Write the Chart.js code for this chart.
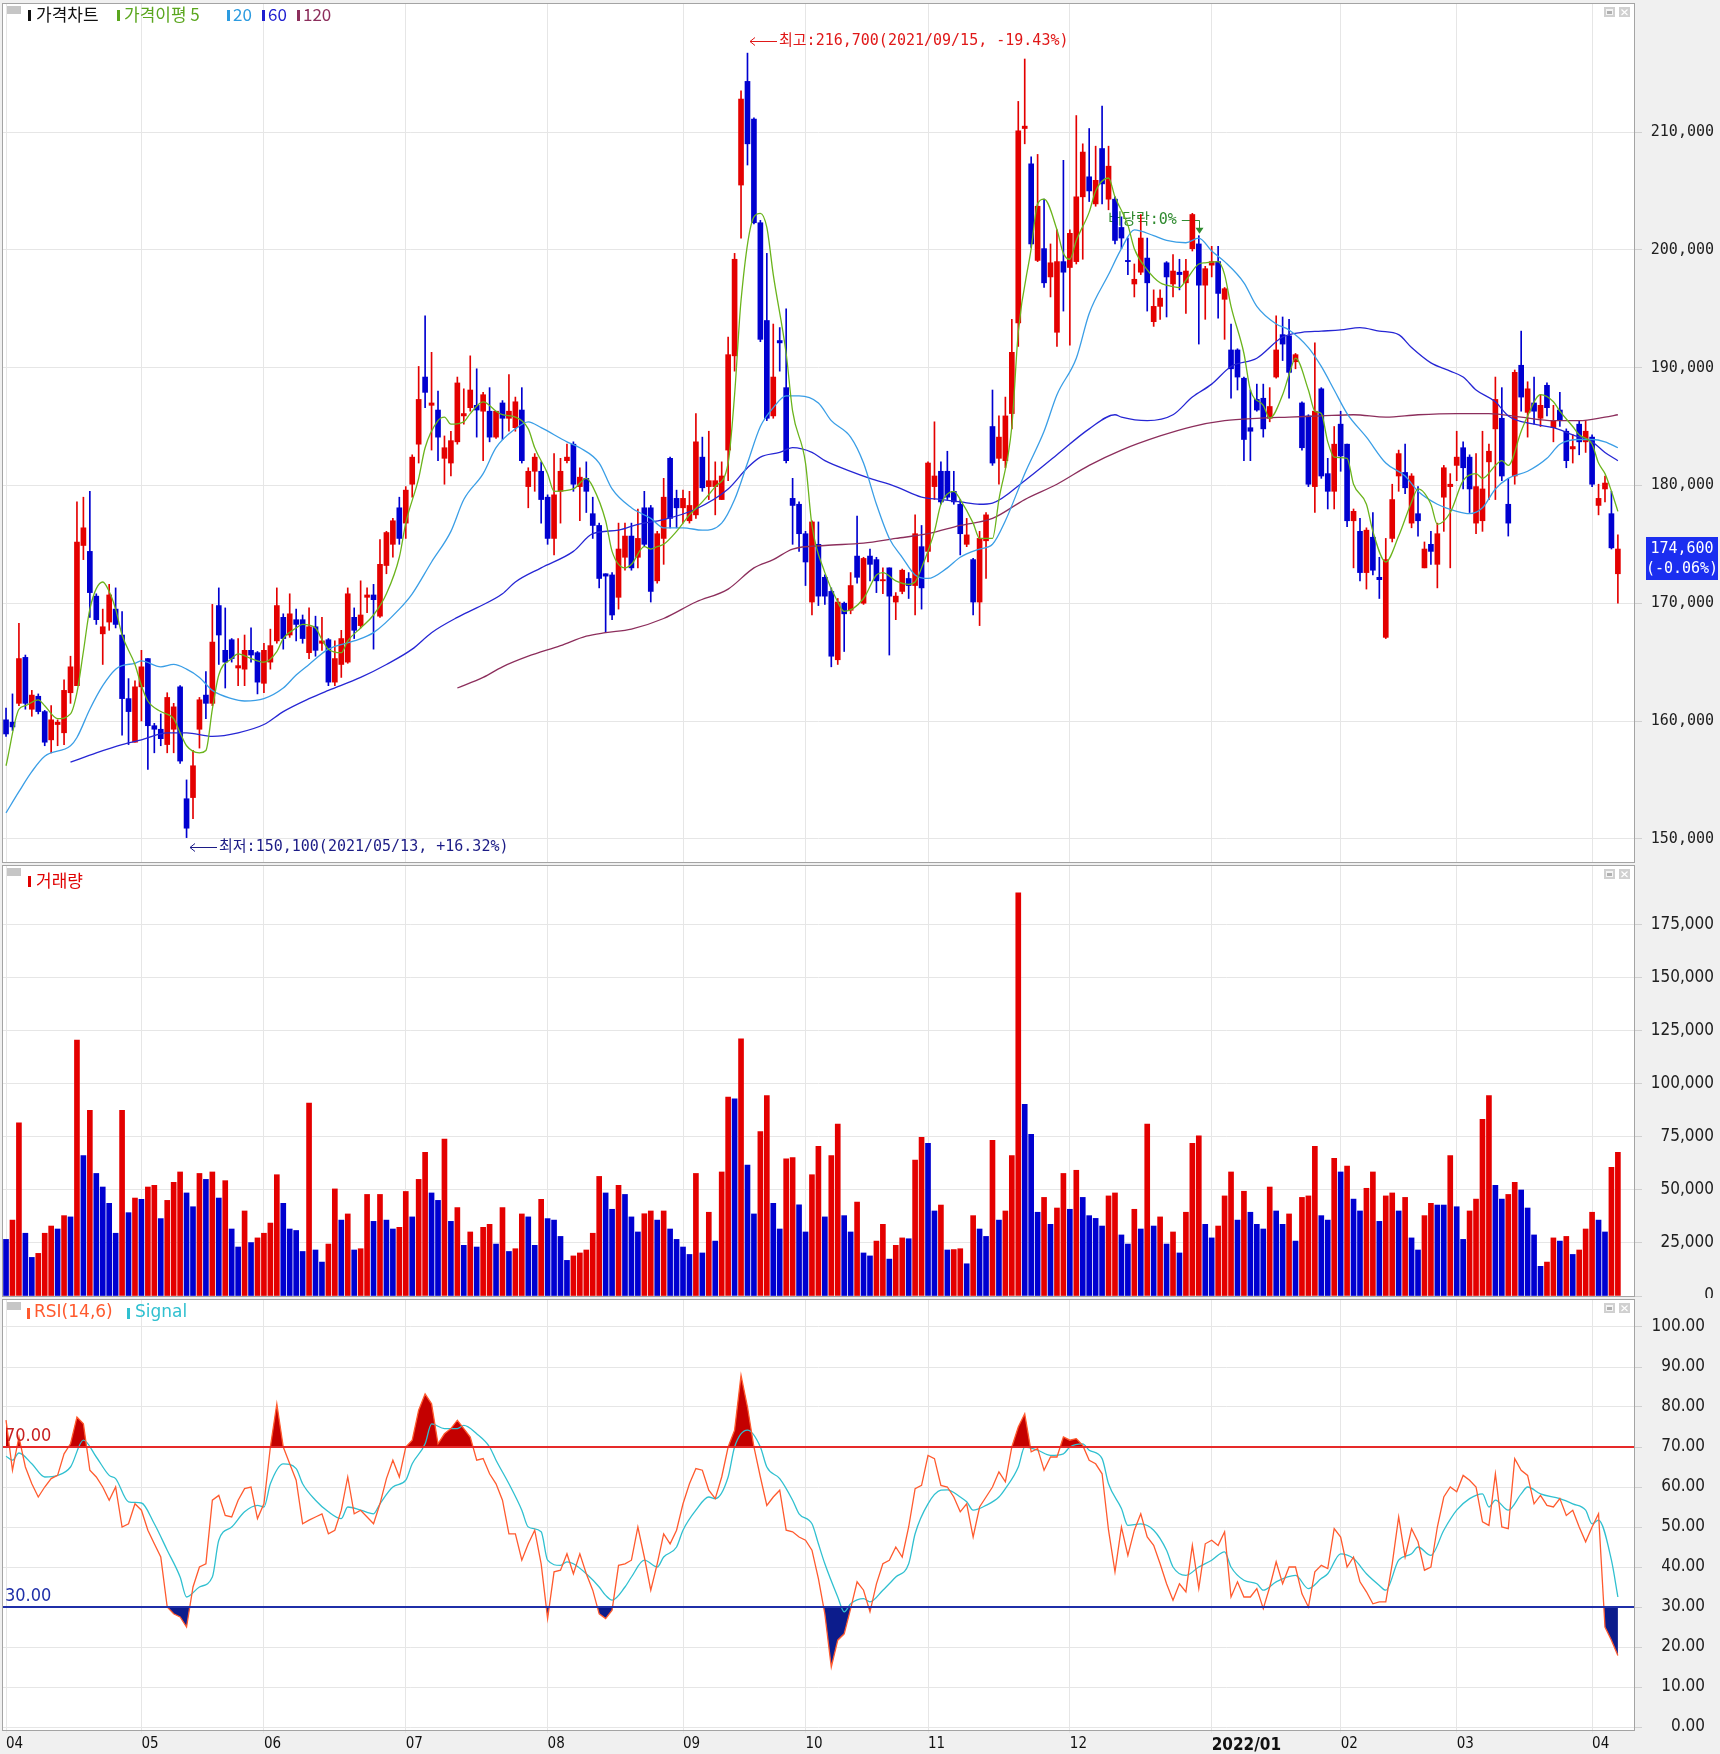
<!DOCTYPE html>
<html>
<head>
<meta charset="utf-8">
<script src="https://cdn.jsdelivr.net/npm/chart.js@4.4.1/dist/chart.umd.min.js"></script>
<style>
html, body { margin: 0; padding: 0; background: #f0f0f0; }
#wrap { position: relative; width: 1720px; height: 1754px; overflow: hidden; }
canvas { position: absolute; left: 0; }
</style>
</head>
<body>
<div id="wrap">
<canvas id="price" width="1720" height="864" style="top:0px"></canvas>
<canvas id="volume" width="1720" height="434" style="top:864px"></canvas>
<canvas id="rsi" width="1720" height="456" style="top:1298px"></canvas>
</div>
<script>
// ---- data (prices in thousand won, volume in thousand shares) ----
var monthIdx = [0, 21, 40, 62, 84, 105, 124, 143, 165, 187, 207, 225, 246];
var monthLabels = ['04', '05', '06', '07', '08', '09', '10', '11', '12', '2022/01', '02', '03', '04'];

var open = [160.1,159.9,161.5,165.4,161.0,162.1,160.8,158.4,159.7,159.0,
162.4,163.0,174.9,174.4,170.6,167.4,168.4,169.5,167.3,161.9,
158.2,162.9,165.3,159.6,159.3,158.0,159.3,162.9,153.4,153.5,
159.3,162.2,161.5,169.8,166.0,166.9,164.5,164.4,166.0,165.8,
163.2,165.0,166.8,168.8,167.3,168.6,168.6,165.8,168.0,166.6,
166.9,163.3,164.8,165.0,168.8,168.1,170.5,170.7,168.9,173.2,
175.0,178.1,176.8,180.1,183.5,189.2,186.8,186.4,182.3,181.9,
183.7,185.9,186.6,186.8,186.3,186.3,184.1,187.0,185.7,184.9,
186.4,179.9,181.2,181.2,179.0,175.5,179.5,182.1,183.5,179.9,
180.6,177.6,176.6,172.5,172.4,170.5,173.9,175.7,173.9,178.1,
178.1,171.9,175.5,182.3,178.9,178.1,177.0,177.5,182.4,179.9,
179.9,178.8,183.0,191.0,205.5,214.3,211.1,202.3,194.0,185.9,
192.3,188.3,178.9,178.4,175.9,170.1,175.0,172.2,171.0,165.2,
170.0,169.4,174.0,170.0,174.0,173.7,171.9,173.0,170.1,171.0,
172.1,171.5,174.8,174.4,179.9,181.2,181.2,179.5,178.4,175.0,
173.7,170.1,175.3,185.0,182.3,182.1,186.1,193.8,210.3,207.3,
199.1,200.1,197.7,193.0,199.0,198.5,199.0,204.5,206.2,203.9,
208.6,204.3,204.3,201.9,199.1,197.1,198.1,199.3,193.9,195.2,
198.9,197.1,198.1,197.2,200.1,200.5,197.0,198.7,199.0,195.8,
191.5,191.5,189.1,184.9,187.3,187.4,185.7,189.2,192.8,192.7,
190.5,187.0,185.9,179.9,188.2,181.0,179.5,185.2,183.5,177.0,
176.1,172.6,175.6,172.2,167.1,175.5,180.8,181.1,176.8,177.6,
173.0,175.0,173.3,179.0,179.9,181.7,183.2,182.4,176.8,177.0,
182.0,184.8,185.7,178.4,180.8,190.2,186.2,187.0,185.7,188.5,
184.9,186.4,184.6,183.1,185.2,183.7,184.1,178.3,179.7,177.6,
172.5];

var high = [161.1,162.3,168.3,165.6,162.6,162.3,160.9,161.3,160.1,163.5,
165.5,178.6,179.0,179.5,170.8,169.5,171.6,171.3,169.3,163.6,
163.4,166.0,165.3,159.8,160.6,162.4,161.5,163.0,155.0,157.5,
162.0,164.2,169.9,171.3,169.6,167.0,167.0,167.3,167.9,165.9,
166.6,167.8,171.3,169.1,170.8,169.5,169.0,169.6,168.9,168.8,
167.0,166.8,167.7,171.3,169.6,171.9,171.3,171.6,175.4,176.1,
177.2,179.0,179.9,182.6,190.1,194.4,191.3,188.0,184.2,184.6,
189.2,188.2,191.0,189.9,187.9,188.3,186.3,187.2,189.4,187.5,
188.3,181.5,182.7,182.0,179.2,182.7,182.3,183.5,183.7,181.5,
182.0,179.0,176.8,172.5,172.6,176.8,176.8,176.8,178.0,179.5,
178.3,176.1,180.6,182.4,179.6,179.6,179.5,186.1,184.1,184.6,
182.0,182.0,192.6,199.7,213.5,216.7,211.2,202.5,199.7,193.7,
193.4,195.0,180.6,178.6,176.1,177.0,176.9,172.4,171.3,170.4,
170.1,172.6,177.4,173.9,174.6,173.9,173.0,173.0,170.9,172.9,
172.6,177.5,176.6,182.0,185.4,182.0,182.9,181.2,178.8,177.2,
173.8,176.1,177.7,188.1,185.9,187.5,194.1,212.6,216.2,207.9,
208.1,204.3,200.5,201.7,207.6,201.7,211.4,209.0,210.3,208.8,
212.2,208.8,204.5,202.8,201.0,198.8,203.0,201.0,196.6,196.6,
199.0,199.6,199.2,199.2,203.1,201.2,198.6,200.3,200.3,196.8,
193.7,191.6,189.2,188.1,188.6,188.6,188.3,194.4,194.3,194.1,
191.2,187.1,186.0,192.1,188.3,182.3,185.0,186.3,183.5,178.0,
177.2,176.4,177.7,173.9,175.5,180.1,183.0,183.5,181.0,179.9,
175.2,176.1,176.8,181.7,181.0,184.6,183.7,182.6,182.7,184.6,
183.5,189.2,188.3,180.6,189.8,193.1,188.8,189.2,187.7,188.7,
186.8,187.9,184.8,184.3,185.5,185.5,184.3,180.1,180.8,179.5,
175.8];

var low = [158.7,159.2,161.3,161.0,160.4,160.6,157.9,157.3,157.9,158.0,
161.5,163.0,173.7,168.8,168.2,164.8,167.7,167.9,158.8,158.0,
158.2,160.0,155.9,157.3,157.9,157.3,157.3,156.4,150.1,151.7,
157.7,160.2,161.3,164.8,162.8,165.0,163.0,163.0,165.0,162.3,
162.4,164.4,166.6,166.1,167.1,166.8,166.6,165.3,165.5,166.0,
163.0,163.0,163.7,164.9,167.0,167.9,169.2,166.1,168.8,172.5,
173.9,175.0,175.5,179.0,181.9,186.6,183.0,182.1,180.1,180.8,
183.5,185.2,186.3,184.1,182.1,183.7,184.0,183.9,184.6,184.6,
181.9,178.1,179.5,176.8,175.0,174.1,176.8,181.9,179.5,177.0,
177.7,175.5,171.3,167.5,168.6,169.5,172.8,172.8,173.0,174.8,
170.1,171.7,173.3,176.4,176.4,176.8,176.8,177.2,179.5,178.8,
177.5,178.8,180.4,189.7,201.0,207.2,202.2,192.2,185.5,185.7,
189.7,181.9,175.0,174.4,171.5,169.0,169.8,169.9,164.6,164.8,
165.9,169.1,171.7,169.9,171.9,170.9,170.8,165.6,168.6,170.8,
170.4,169.0,169.5,173.5,178.8,178.4,178.8,178.4,174.1,174.8,
169.0,168.1,172.1,181.7,180.1,181.5,184.8,191.8,209.0,200.2,
199.0,196.8,196.0,191.8,194.8,191.9,198.8,199.2,204.1,203.7,
203.9,203.4,200.5,200.1,197.9,196.0,197.9,194.8,193.5,194.1,
194.3,196.0,196.6,194.6,199.9,192.0,194.1,197.7,194.2,192.4,
187.4,188.1,182.1,182.1,186.3,184.1,185.4,189.1,190.6,187.4,
189.9,183.0,179.9,177.7,180.6,178.0,178.0,181.2,176.5,173.0,
171.9,171.2,172.4,170.4,167.0,175.2,179.5,179.3,176.4,175.7,
173.0,173.3,171.3,176.1,173.0,180.4,179.7,177.7,175.9,176.1,
178.8,178.8,180.4,175.7,180.1,186.3,184.1,185.2,185.0,185.9,
183.7,185.0,181.5,181.9,182.6,182.8,179.9,177.5,178.6,174.6,
170.0];

var close = [158.9,159.5,165.3,161.5,162.2,160.8,158.2,160.1,159.9,162.6,
164.6,175.2,176.4,170.9,168.6,168.0,170.7,168.2,161.9,160.8,
162.9,164.6,159.6,159.3,158.5,162.0,161.2,156.6,150.9,156.2,
161.8,161.5,166.7,167.3,165.0,165.3,164.7,166.0,165.6,163.3,
166.0,166.4,169.8,167.0,169.1,168.2,167.0,168.0,166.0,166.8,
163.3,165.3,167.0,170.8,167.7,169.0,170.7,170.3,173.3,176.0,
177.0,175.5,179.6,182.4,187.3,187.9,187.0,184.1,183.2,183.8,
188.7,186.1,188.1,186.4,187.7,184.1,186.3,185.7,186.3,187.1,
182.1,181.2,182.4,178.8,175.5,179.2,181.2,182.4,180.1,180.7,
179.5,176.6,172.1,172.3,169.0,174.6,175.7,173.0,175.5,175.0,
171.0,175.9,179.0,177.2,178.1,178.9,178.3,183.7,179.8,180.4,
180.4,180.8,191.1,199.2,212.8,209.0,202.3,192.4,185.7,189.2,
192.1,182.1,178.3,175.9,173.5,176.9,170.6,170.6,165.5,170.1,
169.1,171.5,172.2,173.8,173.3,171.9,172.0,170.6,170.6,172.8,
171.5,175.9,171.3,181.9,180.8,178.6,179.0,178.6,175.9,175.8,
170.1,175.5,177.5,181.9,184.1,185.9,191.3,210.1,210.5,200.5,
203.7,197.2,198.9,199.0,198.1,201.4,204.5,208.3,205.0,205.9,
205.6,207.1,200.8,201.0,199.0,197.5,201.0,197.2,195.2,195.9,
197.7,198.2,197.9,198.2,203.0,197.0,198.4,199.0,196.3,196.7,
189.9,189.2,183.9,184.6,186.4,184.8,186.7,191.5,192.0,189.6,
191.1,183.2,180.1,186.3,180.8,179.5,183.5,182.5,177.0,177.8,
172.6,176.2,172.8,172.0,173.7,178.8,182.7,179.8,180.8,177.0,
174.6,174.4,175.9,181.5,180.1,182.4,181.5,179.7,179.9,179.7,
182.9,187.3,180.8,176.8,189.6,187.5,188.2,186.3,186.8,186.6,
185.5,185.5,182.1,183.3,183.7,184.6,180.1,178.9,180.2,174.7,
174.6];

// moving averages, read at points along each line: [candle index, value]
var ma5 = [[0,156.2],[2,161.0],[3,161.3],[5,161.8],[6,161.3],[8,160.2],[10,160.6],[11,162.4],[12,165.9],[13,169.5],[15,171.8],[16,171.0],[17,169.5],[18,167.3],[20,164.8],[21,163.0],[22,161.7],[24,160.8],[26,160.2],[27,159.0],[28,157.9],[30,157.3],[31,157.5],[32,161.0],[33,163.9],[35,165.3],[36,165.7],[38,165.3],[40,165.0],[42,165.9],[43,167.0],[45,167.9],[46,168.2],[48,167.9],[49,166.9],[50,166.1],[52,165.8],[53,166.8],[55,167.9],[57,169.0],[59,170.8],[61,173.9],[62,176.8],[64,180.6],[65,183.2],[67,185.5],[68,185.8],[69,185.2],[71,185.4],[72,186.1],[74,187.1],[76,186.3],[77,186.0],[79,185.8],[81,184.8],[82,183.2],[84,181.0],[85,179.5],[88,179.7],[90,180.6],[91,179.9],[93,177.0],[94,174.4],[96,173.0],[97,173.3],[99,174.8],[100,174.6],[101,174.8],[102,175.0],[104,176.1],[106,177.5],[108,178.6],[110,179.9],[112,181.9],[113,187.7],[114,195.7],[116,202.8],[117,203.1],[118,201.9],[119,197.9],[121,191.2],[122,186.3],[124,181.9],[125,176.6],[127,172.6],[129,170.1],[130,169.3],[133,170.4],[135,172.4],[136,172.6],[138,171.9],[140,171.6],[141,171.8],[142,173.0],[144,176.1],[145,178.4],[147,179.5],[148,178.8],[150,176.8],[151,175.5],[153,175.5],[154,178.8],[156,185.0],[157,193.0],[159,200.1],[160,203.9],[161,204.3],[163,201.7],[164,199.7],[165,199.2],[166,200.8],[168,203.2],[169,205.0],[171,206.1],[172,204.5],[174,202.1],[175,200.1],[177,198.3],[179,197.2],[180,197.0],[182,196.8],[183,197.4],[185,198.8],[186,198.9],[188,199.0],[189,197.9],[190,195.2],[192,191.2],[193,188.1],[195,186.8],[196,185.7],[198,187.7],[199,189.4],[200,190.8],[202,188.1],[203,186.3],[204,186.1],[205,183.7],[206,182.4],[208,182.3],[209,180.1],[211,178.4],[212,176.1],[214,173.5],[216,175.7],[218,178.6],[219,179.7],[221,178.4],[222,176.7],[224,177.7],[226,180.4],[228,181.0],[229,180.6],[231,181.7],[232,182.1],[233,181.7],[235,184.6],[236,185.9],[238,187.7],[240,187.1],[241,186.3],[243,185.0],[244,184.3],[246,183.5],[247,181.9],[248,181.0],[249,179.5],[250,177.8]];

var ma20 = [[0,152.2],[2,154.0],[4,155.7],[6,157.0],[10,157.9],[11,158.6],[13,161.0],[15,163.0],[17,164.4],[18,164.7],[20,164.9],[21,165.1],[24,164.6],[26,164.8],[28,164.4],[30,163.7],[32,162.6],[35,161.9],[37,161.7],[40,161.9],[43,162.8],[45,163.9],[47,164.8],[50,166.1],[54,166.8],[57,167.5],[61,169.5],[63,170.8],[66,173.5],[69,176.1],[71,178.8],[74,181.0],[76,183.2],[79,184.8],[81,185.4],[83,184.9],[87,183.7],[89,183.2],[92,181.9],[94,179.7],[97,178.1],[100,177.2],[102,176.4],[105,176.4],[108,176.2],[111,176.8],[113,178.8],[115,181.9],[117,185.0],[119,186.6],[121,187.6],[123,187.6],[126,187.0],[128,185.5],[131,184.1],[133,181.9],[135,178.4],[137,175.5],[139,173.9],[141,172.4],[143,172.1],[146,173.0],[148,173.9],[151,174.6],[153,175.0],[155,177.0],[158,181.0],[161,184.6],[163,187.7],[166,190.8],[168,194.6],[171,197.9],[173,200.1],[175,201.7],[178,201.2],[180,200.8],[183,200.6],[185,201.0],[187,199.9],[189,199.0],[192,197.2],[194,195.2],[197,193.7],[199,193.2],[202,191.7],[204,190.1],[206,188.1],[208,186.1],[211,184.1],[214,181.9],[217,180.8],[219,179.5],[222,178.4],[225,177.8],[227,177.6],[229,178.1],[231,179.7],[233,180.6],[236,181.2],[239,182.3],[241,183.5],[244,183.9],[246,183.9],[248,183.7],[250,183.2]];

var ma60 = [[10,156.5],[14,157.3],[18,158.0],[21,158.4],[25,159.0],[28,159.0],[32,158.7],[36,159.0],[40,159.7],[43,160.8],[47,161.9],[50,162.6],[55,163.7],[59,164.8],[63,166.1],[66,167.5],[70,168.8],[73,169.6],[77,170.8],[79,171.8],[83,173.0],[88,174.4],[91,175.9],[95,176.2],[98,176.7],[102,177.1],[107,178.0],[112,179.7],[115,181.5],[117,182.4],[120,182.8],[122,183.2],[125,182.8],[127,182.1],[131,181.2],[134,180.6],[138,179.9],[142,179.0],[145,178.8],[148,178.6],[151,178.4],[153,178.5],[158,180.4],[163,182.6],[168,184.8],[172,186.0],[173,185.8],[177,185.5],[181,186.0],[184,187.5],[187,188.6],[190,190.1],[194,190.8],[198,192.6],[201,193.0],[204,193.1],[207,193.2],[210,193.4],[213,193.1],[216,192.8],[218,191.7],[221,190.4],[224,189.7],[226,189.2],[228,188.1],[231,187.1],[233,185.9],[237,185.2],[240,184.9],[243,184.3],[246,183.7],[248,182.8],[250,182.1]];

var ma120 = [[70,162.8],[74,163.7],[77,164.6],[81,165.5],[86,166.4],[90,167.2],[93,167.5],[97,167.8],[102,168.7],[107,170.1],[112,171.2],[116,173.0],[119,173.7],[122,174.6],[127,174.9],[133,175.1],[138,175.5],[143,175.9],[148,176.6],[153,177.2],[158,178.8],[163,180.1],[168,181.7],[173,183.0],[179,184.2],[184,185.0],[189,185.5],[194,185.7],[199,185.8],[204,185.9],[209,186.0],[214,185.8],[219,186.0],[225,186.1],[230,186.1],[235,185.8],[240,185.5],[244,185.5],[248,185.8],[250,186.0]];

var volume = [26.7,35.8,81.7,29.6,18.2,20.1,29.6,33.0,31.6,37.9,
37.3,120.7,66.2,87.6,57.8,51.4,43.7,29.6,87.6,39.3,
46.2,45.6,51.4,52.2,36.5,45.1,53.6,58.5,48.6,42.1,
57.8,55.0,58.5,46.2,54.4,31.6,23.1,40.1,25.2,27.4,
29.6,34.4,57.2,43.7,31.6,30.9,21.0,91.0,21.7,16.0,
24.5,50.5,35.8,38.7,21.7,22.3,47.9,35.2,47.9,35.8,
31.6,32.4,49.3,37.3,55.0,67.7,48.6,45.1,74.0,35.2,
41.7,23.9,30.2,23.1,32.4,33.8,24.5,41.7,21.0,22.3,
38.7,37.3,23.9,45.6,36.5,35.8,28.1,16.8,18.9,20.3,
21.7,29.6,56.4,48.6,40.9,52.2,47.9,37.3,30.2,38.8,
40.1,35.8,40.1,31.6,26.7,23.1,19.6,57.8,20.3,39.5,
25.9,58.5,93.8,93.0,121.3,61.8,38.7,77.5,94.5,43.7,
31.6,64.7,65.3,43.0,30.2,57.2,70.6,37.3,66.2,81.1,
37.9,30.2,44.3,20.3,18.9,25.9,33.8,17.4,23.9,27.4,
27.0,64.1,74.8,72.0,40.1,42.9,21.7,21.9,22.3,15.2,
37.9,31.6,28.1,73.4,35.8,40.1,66.2,190.2,90.4,76.2,
39.5,46.5,33.8,41.5,57.8,40.9,59.3,46.5,37.9,36.6,
33.0,47.2,48.6,28.8,24.5,40.9,31.6,81.1,33.0,37.3,
24.5,30.2,20.3,39.5,72.0,75.5,33.8,27.4,33.0,47.2,
58.5,35.8,49.4,39.5,33.8,31.6,51.4,40.1,33.8,38.7,
25.9,46.5,47.2,70.6,37.9,35.8,64.9,58.5,61.3,45.7,
40.1,50.8,58.5,35.2,47.2,48.6,40.1,46.5,27.4,21.7,
37.9,43.7,42.9,42.9,66.2,42.1,26.7,40.1,45.7,83.3,
94.5,52.2,45.7,47.9,53.6,50.0,41.5,28.8,14.0,16.0,
27.4,25.9,28.1,19.6,21.7,31.6,39.5,35.8,30.2,60.7,
67.8];

var rsi = [76.7,64.2,72.5,65.0,60.8,57.5,60.0,62.1,62.9,68.3,
70.8,77.5,75.8,64.2,62.5,60.0,56.7,60.0,50.0,50.8,
55.8,54.2,49.2,45.8,42.5,30.0,28.3,27.5,25.0,35.0,
40.0,40.8,56.7,57.9,52.9,52.5,56.7,59.6,60.0,52.1,
55.8,70.0,80.8,70.0,65.8,61.7,50.8,51.7,52.5,53.3,
48.3,49.2,54.2,62.5,53.3,54.2,52.5,50.8,55.8,62.1,
66.7,62.5,70.0,71.7,79.2,83.3,80.8,70.8,73.3,74.6,
76.7,74.6,72.5,66.7,67.1,63.3,60.8,56.7,48.3,48.3,
41.7,45.8,49.2,40.8,27.1,38.8,39.2,43.3,38.3,43.3,
38.3,34.2,28.3,27.1,29.2,40.4,40.8,41.7,50.0,42.5,
34.2,40.8,48.3,45.8,49.2,55.8,60.8,64.6,64.2,59.2,
57.1,62.5,70.0,74.2,87.9,80.0,70.0,62.5,55.4,57.5,
59.2,49.2,48.8,47.5,46.7,44.2,37.1,28.3,15.0,21.7,
23.3,29.6,36.3,34.2,28.8,35.8,40.8,41.7,45.0,42.5,
50.0,59.6,60.4,67.9,67.1,60.4,60.0,57.5,53.8,55.8,
47.5,55.0,57.5,60.0,63.8,61.3,70.0,75.0,78.3,68.8,
69.6,64.2,67.5,67.5,72.5,71.7,72.1,70.4,66.7,65.8,
63.3,49.2,38.8,50.0,42.9,49.2,53.3,47.5,45.4,40.8,
35.8,31.7,35.8,33.8,45.4,34.6,45.8,46.7,45.4,48.8,
32.5,36.3,32.5,32.5,34.6,29.6,35.0,41.3,35.8,40.0,
40.0,33.3,30.0,38.8,40.4,39.6,49.6,47.5,40.0,42.5,
36.3,33.8,30.8,31.3,31.3,40.8,52.5,42.5,49.6,46.3,
39.2,40.0,50.0,57.5,60.0,58.8,62.9,61.7,60.0,51.3,
50.4,63.3,50.0,49.6,67.1,64.2,62.9,55.8,57.9,55.4,
55.0,57.1,52.9,54.2,50.0,46.3,50.0,53.3,25.0,21.7,
17.9];

var signal = [[0,67.7],[1,66.7],[2,68.5],[4,65.8],[6,62.5],[8,62.9],[10,65.0],[12,71.7],[14,67.5],[16,62.9],[17,62.1],[19,56.3],[21,56.0],[23,50.8],[25,44.2],[27,37.5],[28,32.5],[30,35.0],[32,37.5],[33,46.7],[35,50.0],[37,53.8],[39,55.4],[40,55.0],[41,60.8],[43,65.8],[45,64.6],[46,60.8],[48,56.7],[50,53.8],[52,52.1],[53,55.0],[55,54.2],[57,53.3],[58,55.8],[60,60.0],[62,61.7],[63,65.8],[65,70.8],[66,75.8],[68,74.6],[70,74.6],[71,75.4],[73,73.3],[75,70.0],[76,66.7],[78,60.8],[80,54.2],[81,50.0],[83,48.8],[84,41.7],[86,40.4],[87,41.3],[88,40.8],[90,38.3],[92,35.0],[93,32.9],[94,31.7],[96,35.0],[97,37.5],[99,41.7],[101,40.0],[102,42.5],[104,45.0],[105,49.2],[107,54.2],[109,57.5],[110,57.1],[112,62.5],[113,70.0],[115,74.2],[117,70.0],[118,65.0],[120,62.1],[122,56.7],[123,53.3],[125,50.8],[126,45.8],[127,40.8],[129,32.5],[130,28.8],[131,30.8],[133,32.1],[134,31.3],[136,34.2],[138,37.5],[140,40.8],[141,48.3],[143,55.8],[145,59.2],[146,59.3],[148,57.5],[149,56.3],[150,54.2],[152,55.4],[154,57.5],[155,59.6],[157,65.0],[158,70.0],[160,69.2],[162,67.9],[164,68.3],[165,70.0],[167,70.8],[168,69.2],[170,67.1],[171,60.8],[173,54.6],[174,50.4],[176,50.8],[178,49.2],[180,44.2],[181,40.0],[183,37.9],[185,40.0],[187,41.7],[189,43.8],[190,40.0],[192,36.7],[194,35.8],[195,34.2],[197,36.3],[200,37.9],[202,34.6],[204,37.1],[205,38.3],[207,43.3],[209,42.1],[211,38.3],[213,35.4],[214,34.2],[216,41.7],[218,43.3],[219,45.0],[221,42.9],[223,49.2],[225,54.2],[227,57.1],[229,58.3],[230,55.0],[231,56.7],[233,54.2],[235,58.3],[236,60.0],[238,58.3],[241,57.1],[243,55.8],[245,54.2],[246,50.8],[247,51.7],[249,41.7],[250,32.5]];

var priceTicks = [150, 160, 170, 180, 190, 200, 210];
var volumeTicks = [0, 25, 50, 75, 100, 125, 150, 175];
var rsiTicks = [0, 10, 20, 30, 40, 50, 60, 70, 80, 90, 100];

var hiMark = {i: 115, v: 216.7, text: '최고:216,700(2021/09/15, -19.43%)'};
var loMark = {i: 28, v: 150.1, text: '최저:150,100(2021/05/13, +16.32%)'};
var divMark = {i: 185, text: '배당락:0%'};

// ---- style ----
var GRID = '#e6e6e6';
var RED = '#e40000';
var BLUE = '#0000d0';
var MONO = "'DejaVu Sans Mono', monospace";
var COND = "'DejaVu Sans Condensed', 'DejaVu Sans', sans-serif";
var KR = "17px 'Noto Sans CJK KR', sans-serif";
var LAT = "17px 'DejaVu Sans', sans-serif";
var ANN = "15px 'DejaVu Sans Mono', 'Noto Sans CJK KR', monospace";

Chart.defaults.animation = false;
Chart.defaults.responsive = false;
Chart.defaults.devicePixelRatio = 1;
Chart.defaults.plugins.legend.display = false;
Chart.defaults.plugins.tooltip.enabled = false;
Chart.defaults.elements.point.radius = 0;

var idx = close.map(function (c, i) { return i; });
function pts(list) { return list.map(function (p) { return {x: p[0], y: p[1]}; }); }
function fmtK(v) { return Math.round(v * 1000).toLocaleString('en-US'); }
function fmt2(v) { return v.toFixed(2); }
function noPad(s) { s.paddingTop = 0; s.paddingBottom = 0; s.paddingLeft = 0; s.paddingRight = 0; }

// per-panel header and right-axis label settings, keyed by canvas id
var panelCfg = {
    price: {
        y: 15, ticks: priceTicks, fmt: fmtK, axisFont: '15px ' + MONO, axisRight: 1714,
        items: [
            { bar: 28, x: 36, text: '가격차트', color: '#111111', font: KR },
            { bar: 117, x: 124, text: '가격이평 5', color: '#5aa61e', font: KR },
            { bar: 227, x: 233, text: '20', color: '#2c9be0', font: KR },
            { bar: 262, x: 268, text: '60', color: '#1f1fd0', font: KR },
            { bar: 297, x: 303, text: '120', color: '#8c2e5c', font: KR }
        ]
    },
    volume: {
        y: 17, ticks: volumeTicks, fmt: fmtK, axisFont: '17px ' + COND, axisRight: 1714,
        items: [ { bar: 28, x: 36, text: '거래량', color: '#e00000', font: KR } ]
    },
    rsi: {
        y: 15, ticks: rsiTicks, fmt: fmt2, axisFont: '17px ' + COND, axisRight: 1705,
        items: [
            { bar: 27, x: 34, text: 'RSI(14,6)', color: '#ff5a2e', font: LAT },
            { bar: 127, x: 135, text: 'Signal', color: '#30c0d0', font: LAT }
        ]
    }
};

function xAxis(labels) {
    var ax = {
        type: 'linear', min: -0.47, max: 252.5, bounds: 'data', offset: false,
        afterBuildTicks: function (s) { s.ticks = monthIdx.map(function (v) { return {value: v}; }); },
        afterFit: function (s) { s.height = labels ? 24 : 0; noPad(s); },
        grid: { color: GRID, offset: false, drawTicks: labels, tickLength: 3 },
        border: { display: false },
        ticks: { display: false }
    };
    if (labels) {
        ax.ticks = {
            display: true, autoSkip: false, maxRotation: 0, align: 'start', padding: 2, color: '#111',
            font: function (c) {
                return c.tick && c.tick.value === 187 ? {family: COND, size: 17, weight: 'bold'} : {family: COND, size: 15};
            },
            callback: function (v) { return monthLabels[monthIdx.indexOf(v)]; }
        };
    }
    return ax;
}

// right axis: grid and tick marks from Chart.js, labels drawn by the panel plugin
function yAxis(min, max, vals) {
    return {
        position: 'right', min: min, max: max, bounds: 'data',
        afterBuildTicks: function (s) { s.ticks = vals.map(function (v) { return {value: v}; }); },
        afterFit: function (s) { s.width = 86; noPad(s); },
        grid: { color: GRID, tickLength: 8, tickColor: '#d0d0d0' },
        border: { color: '#9c9c9c' },
        ticks: { display: false }
    };
}

function winIcons(ctx, top) {
    ctx.fillStyle = '#d0d0d0';
    ctx.fillRect(1604, top + 3, 11, 10);
    ctx.fillRect(1619, top + 3, 11, 10);
    ctx.fillStyle = '#f4f4f4';
    ctx.fillRect(1606, top + 5, 7, 6);
    ctx.fillStyle = '#b0b0b0';
    ctx.fillRect(1607, top + 7, 5, 3);
    ctx.strokeStyle = '#ffffff';
    ctx.lineWidth = 1.2;
    ctx.beginPath();
    ctx.moveTo(1621.5, top + 5.5); ctx.lineTo(1627.5, top + 11);
    ctx.moveTo(1627.5, top + 5.5); ctx.lineTo(1621.5, top + 11);
    ctx.stroke();
}

function legend(ctx, top, items, y) {
    ctx.fillStyle = '#c6c6c6';
    ctx.fillRect(7, top + 2, 14, 8);
    ctx.textBaseline = 'middle';
    ctx.textAlign = 'left';
    items.forEach(function (it) {
        ctx.fillStyle = it.color;
        ctx.fillRect(it.bar, y - 5, 3, 11);
        ctx.font = it.font;
        ctx.fillText(it.text, it.x, y);
    });
}

var panel = {
    id: 'panel',
    beforeDraw: function (c) {
        var a = c.chartArea, ctx = c.ctx;
        ctx.save();
        ctx.fillStyle = '#ffffff';
        ctx.fillRect(a.left, a.top, a.right - a.left, a.bottom - a.top);
        ctx.restore();
    },
    afterDraw: function (c) {
        var a = c.chartArea, ctx = c.ctx, o = panelCfg[c.canvas.id], sy = c.scales.y;
        ctx.save();
        ctx.strokeStyle = '#a4a4a4';
        ctx.lineWidth = 1;
        ctx.strokeRect(a.left - 0.5, a.top - 0.5, a.right - a.left + 1, a.bottom - a.top + 1);
        winIcons(ctx, a.top);
        legend(ctx, a.top, o.items, o.y);
        ctx.font = o.axisFont;
        ctx.fillStyle = '#202020';
        ctx.textAlign = 'right';
        ctx.textBaseline = 'middle';
        o.ticks.forEach(function (v) { ctx.fillText(o.fmt(v), o.axisRight, sy.getPixelForValue(v)); });
        ctx.restore();
    }
};

function arrowText(ctx, x, y, text, color) {
    var x0 = Math.round(x) + 3, yy = Math.round(y) + 0.5;
    ctx.save();
    ctx.strokeStyle = color;
    ctx.fillStyle = color;
    ctx.lineWidth = 1;
    ctx.beginPath();
    ctx.moveTo(x0, yy); ctx.lineTo(x0 + 27, yy);
    ctx.moveTo(x0 + 5, yy - 4); ctx.lineTo(x0, yy); ctx.lineTo(x0 + 5, yy + 4);
    ctx.stroke();
    ctx.font = ANN;
    ctx.textBaseline = 'middle';
    ctx.textAlign = 'left';
    ctx.fillText(text, x0 + 29, y);
    ctx.restore();
}

var marks = {
    id: 'marks',
    beforeDatasetsDraw: function (c) {
        var ctx = c.ctx, x = c.scales.x.getPixelForValue(divMark.i);
        var yh = c.scales.y.getPixelForValue(high[divMark.i]);
        var y = yh - 16, xr = Math.round(x) + 0.5, yr = Math.round(y) + 0.5;
        ctx.save();
        ctx.fillStyle = '#2f8a2f';
        ctx.strokeStyle = '#2f8a2f';
        ctx.font = ANN;
        ctx.textBaseline = 'middle';
        ctx.textAlign = 'right';
        ctx.fillText(divMark.text, x - 22, y);
        ctx.lineWidth = 1;
        ctx.beginPath();
        ctx.moveTo(x - 17, yr); ctx.lineTo(xr, yr); ctx.lineTo(xr, yh - 5);
        ctx.stroke();
        ctx.beginPath();
        ctx.moveTo(xr - 4, yh - 8); ctx.lineTo(xr + 4, yh - 8); ctx.lineTo(xr, yh - 2);
        ctx.closePath();
        ctx.fill();
        ctx.restore();
    },
    afterDatasetsDraw: function (c) {
        var ctx = c.ctx, sx = c.scales.x, sy = c.scales.y;
        arrowText(ctx, sx.getPixelForValue(hiMark.i), sy.getPixelForValue(hiMark.v) - 12, hiMark.text, '#e01818');
        arrowText(ctx, sx.getPixelForValue(loMark.i), sy.getPixelForValue(loMark.v) + 9, loMark.text, '#1c1c86');
    },
    afterDraw: function (c) {
        var ctx = c.ctx, last = close.length - 1;
        var yc = c.scales.y.getPixelForValue(close[last]);
        var pct = (close[last] - close[last - 1]) / close[last - 1] * 100;
        ctx.save();
        ctx.fillStyle = '#1b2ef0';
        ctx.fillRect(1646, Math.round(yc) - 12, 72, 43);
        ctx.fillStyle = '#ffffff';
        ctx.font = ANN;
        ctx.textAlign = 'center';
        ctx.textBaseline = 'middle';
        ctx.fillText(fmtK(close[last]), 1682, yc);
        ctx.fillText('(' + pct.toFixed(2) + '%)', 1682, yc + 20);
        ctx.restore();
    }
};

// ---- price chart ----
var candleColor = idx.map(function (i) { return close[i] >= open[i] ? RED : BLUE; });

new Chart(document.getElementById('price').getContext('2d'), {
    type: 'bar',
    data: {
        datasets: [
            { type: 'line', data: pts(ma5), borderColor: '#6bb41c', borderWidth: 1.3, cubicInterpolationMode: 'monotone', order: 0 },
            { type: 'line', data: pts(ma20), borderColor: '#3a9ee6', borderWidth: 1.3, cubicInterpolationMode: 'monotone', order: 0 },
            { type: 'line', data: pts(ma60), borderColor: '#2626d4', borderWidth: 1.3, cubicInterpolationMode: 'monotone', order: 0 },
            { type: 'line', data: pts(ma120), borderColor: '#8c2e5c', borderWidth: 1.3, cubicInterpolationMode: 'monotone', order: 0 },
            { data: idx.map(function (i) { return {x: i, y: [open[i], close[i]]}; }), backgroundColor: candleColor,
              barThickness: 5, grouped: false, borderWidth: 0, borderSkipped: false, order: 2 },
            { data: idx.map(function (i) { return {x: i, y: [low[i], high[i]]}; }), backgroundColor: candleColor,
              barThickness: 1, grouped: false, borderWidth: 0, borderSkipped: false, order: 3 }
        ]
    },
    options: {
        layout: { padding: { left: 3, top: 4, right: 0, bottom: 2 } },
        scales: { x: xAxis(false), y: yAxis(148.03, 220.87, priceTicks) }
    },
    plugins: [panel, marks]
});

// ---- volume chart ----
var volColor = volume.map(function (v, i) { return i > 0 && v > volume[i - 1] ? RED : BLUE; });

new Chart(document.getElementById('volume').getContext('2d'), {
    type: 'bar',
    data: {
        datasets: [
            { data: idx.map(function (i) { return {x: i, y: volume[i]}; }), backgroundColor: volColor,
              barThickness: 5, grouped: false, borderWidth: 0 }
        ]
    },
    options: {
        layout: { padding: { left: 3, top: 2, right: 0, bottom: 2 } },
        scales: { x: xAxis(false), y: yAxis(0, 202.8, volumeTicks) }
    },
    plugins: [panel]
});

// ---- RSI chart ----
var rsiPts = idx.map(function (i) { return {x: i, y: rsi[i]}; });

var rsiLevels = {
    id: 'rsiLevels',
    afterDatasetsDraw: function (c) {
        var ctx = c.ctx, a = c.chartArea, sy = c.scales.y;
        var y70 = Math.round(sy.getPixelForValue(70)), y30 = Math.round(sy.getPixelForValue(30));
        ctx.save();
        ctx.lineWidth = 2;
        ctx.strokeStyle = '#e62a2a';
        ctx.beginPath(); ctx.moveTo(a.left, y70); ctx.lineTo(a.right, y70); ctx.stroke();
        ctx.strokeStyle = '#1f2fa8';
        ctx.beginPath(); ctx.moveTo(a.left, y30); ctx.lineTo(a.right, y30); ctx.stroke();
        ctx.font = '18px ' + COND;
        ctx.textBaseline = 'bottom';
        ctx.textAlign = 'left';
        ctx.fillStyle = '#c81e1e';
        ctx.fillText('70.00', 5, y70 - 2);
        ctx.fillStyle = '#1f2fa8';
        ctx.fillText('30.00', 5, y30 - 2);
        ctx.restore();
    }
};

new Chart(document.getElementById('rsi').getContext('2d'), {
    type: 'line',
    data: {
        datasets: [
            { data: rsiPts, borderColor: '#ff5a2e', borderWidth: 1.3, order: 1 },
            { data: pts(signal), borderColor: '#30c0d0', borderWidth: 1.3, cubicInterpolationMode: 'monotone', order: 2 },
            { data: rsiPts, borderColor: 'rgba(0,0,0,0)', borderWidth: 0, order: 5,
              fill: { target: { value: 70 }, above: '#c40000', below: 'rgba(0,0,0,0)' } },
            { data: rsiPts, borderColor: 'rgba(0,0,0,0)', borderWidth: 0, order: 5,
              fill: { target: { value: 30 }, above: 'rgba(0,0,0,0)', below: '#0c1c8c' } }
        ]
    },
    options: {
        layout: { padding: { left: 3, top: 2, right: 0, bottom: 0 } },
        scales: { x: xAxis(true), y: yAxis(-0.75, 106.75, rsiTicks) }
    },
    plugins: [panel, rsiLevels]
});
</script>
</body>
</html>
